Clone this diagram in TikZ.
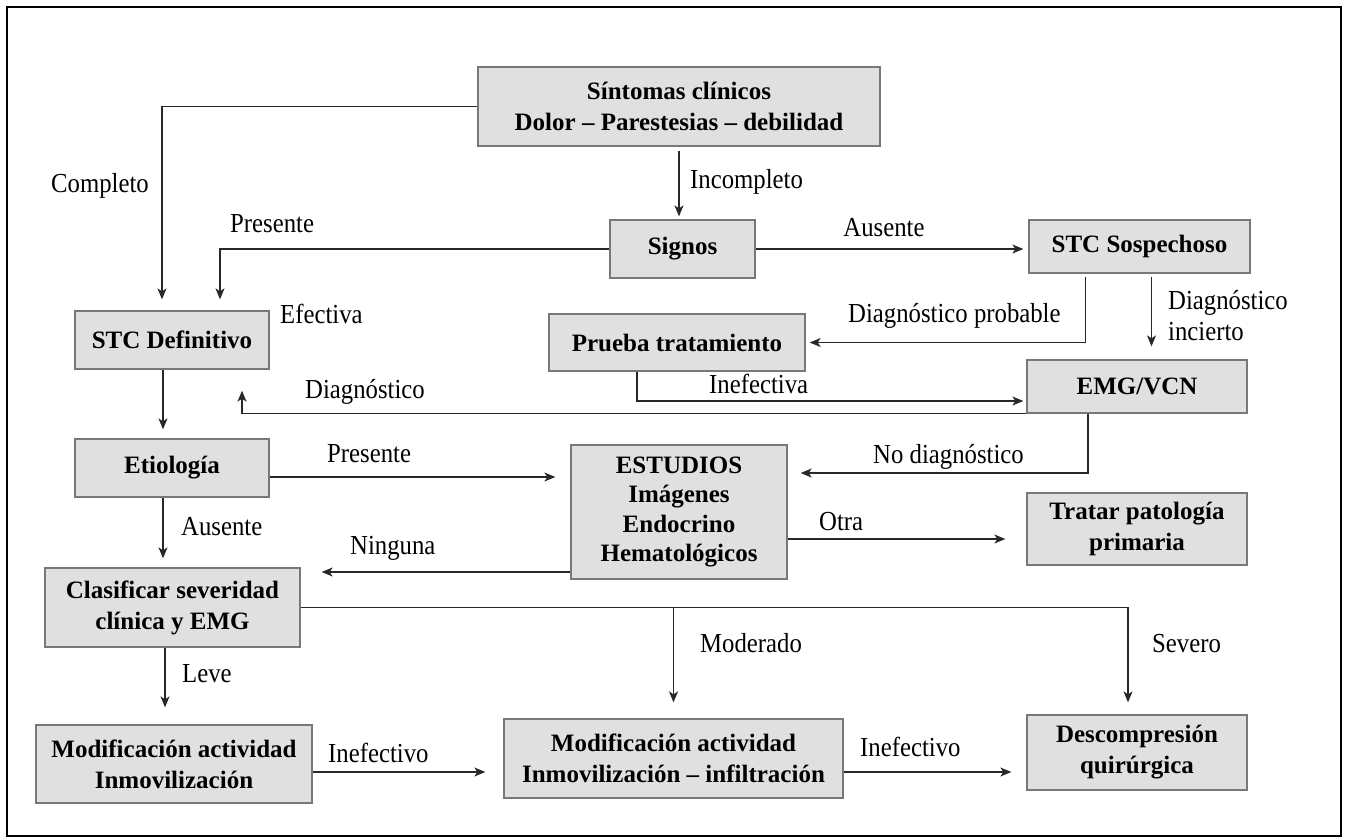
\documentclass[tikz,border=0pt]{standalone}
\usepackage{fontspec}
\setmainfont{Liberation Serif}
\newfontfamily\labfont{Liberation Serif}[FakeStretch=0.9]
\usetikzlibrary{arrows.meta}
\definecolor{boxfill}{RGB}{224,224,224}
\definecolor{boxline}{RGB}{120,120,120}
\definecolor{conn}{RGB}{40,40,40}
\begin{document}
\begin{tikzpicture}[x=1pt,y=-1pt,
  box/.style={draw=boxline,line width=1.3pt,fill=boxfill,align=center,inner sep=0pt,
    font=\fontsize{25}{31}\selectfont\bfseries},
  lab/.style={anchor=base west,inner sep=0pt,font=\labfont\fontsize{27.5}{31}\selectfont},
  arr/.style={draw=conn,line width=1.2pt,-{Stealth[length=11pt,width=9pt,inset=3pt]}}]
\path[use as bounding box] (0,0) rectangle (1352,839);
\draw[line width=1.6pt] (7,7) rectangle (1341,836);
% boxes
\node[box,minimum width=402,minimum height=79] (sint) at (679,106.5) {Síntomas clínicos\\Dolor – Parestesias – debilidad};
\node[box,minimum width=145,minimum height=58] (signos) at (682.5,249) {Signos};
\node[box,minimum width=221,minimum height=53] (sosp) at (1139.5,246.5) {STC Sospechoso};
\node[box,minimum width=194,minimum height=58] (def) at (172,340) {STC Definitivo};
\node[box,minimum width=256,minimum height=57] (prueba) at (677,342.5) {Prueba tratamiento};
\node[box,minimum width=220,minimum height=53] (emg) at (1137,386.5) {EMG/VCN};
\node[box,minimum width=194,minimum height=58] (etio) at (172,468) {Etiología};
\node[box,minimum width=216,minimum height=134,font=\fontsize{25}{29.5}\selectfont\bfseries] (est) at (679,512) {ESTUDIOS\\Imágenes\\Endocrino\\Hematológicos};
\node[box,minimum width=220,minimum height=72] (tratar) at (1137,529) {Tratar patología\\primaria};
\node[box,minimum width=255,minimum height=79] (clasif) at (172.5,607.5) {Clasificar severidad\\clínica y EMG};
\node[box,minimum width=276,minimum height=78] (mod1) at (174,764) {Modificación actividad\\Inmovilización};
\node[box,minimum width=339,minimum height=79] (mod2) at (673.5,758.5) {Modificación actividad\\Inmovilización – infiltración};
\node[box,minimum width=220,minimum height=75] (desc) at (1137,752.5) {Descompresión\\quirúrgica};
% connectors
\draw[arr,shorten >=11pt] (sint.west) -| ([xshift=-10pt]def.north);
\draw[arr,shorten <=4pt,shorten >=3pt] (sint.south) -- (sint.south |- signos.north);
\draw[arr,shorten >=11pt] (signos.west) -| ([xshift=48pt]def.north);
\draw[arr,shorten >=5pt] (signos.east) -- (signos.east -| sosp.west);
\draw[arr,shorten <=3pt,shorten >=4pt] ([xshift=-54pt]sosp.south) |- (prueba.east);
\draw[arr,shorten <=3pt,shorten >=13pt] ([xshift=12pt]sosp.south) -- ([xshift=12pt]sosp.south |- emg.north);
\draw[arr,shorten >=3pt] ([xshift=-40pt]prueba.south) |- ([yshift=-14.5pt]emg.west);
\draw[arr,shorten >=21pt] (emg.south west) -| ([xshift=70pt]def.south);
\draw[arr,shorten >=9pt] ([xshift=-9pt]def.south) -- ([xshift=-9pt]etio.north);
\draw[arr,shorten >=15pt] ([yshift=-9pt]etio.east) -- ([yshift=-9pt]etio.east -| est.west);
\draw[arr,shorten >=13pt] ([xshift=-49pt]emg.south) |- ([yshift=39pt]est.east);
\draw[arr,shorten >=9pt] ([xshift=-9pt]etio.south) -- ([xshift=-9pt]etio.south |- clasif.north);
\draw[arr,shorten >=21pt] ([yshift=-60pt]est.west) -- ([yshift=-60pt]est.west -| clasif.east);
\draw[arr,shorten >=21pt] ([yshift=-27pt]est.east) -- ([yshift=-27pt]est.east -| tratar.west);
\draw[arr,shorten >=12pt] (clasif.east) -| ([xshift=-9pt]desc.north);
\draw[arr,shorten >=16pt] (clasif.east -| mod2.north) -- (mod2.north);
\draw[arr,shorten >=17pt] ([xshift=-7.5pt]clasif.south) -- ([xshift=-7.5pt]clasif.south |- mod1.north);
\draw[arr,shorten >=18pt] ([yshift=-8pt]mod1.east) -- ([yshift=-8pt]mod1.east -| mod2.west);
\draw[arr,shorten >=15pt] ([yshift=-13.5pt]mod2.east) -- ([yshift=-13.5pt]mod2.east -| desc.west);
% labels
\node[lab] (lcomp) at (51,192) {Completo};
\node[lab] (linc) at (690,188) {Incompleto};
\node[lab] (lpres1) at (230,232) {Presente};
\node[lab,anchor=base] (laus1) at (884,236) {Ausente};
\node[lab] (lefec) at (280,323) {Efectiva};
\node[lab] (lprob) at (848,322) {Diagnóstico probable};
\node[lab,align=left] (linci) at (1168,340) {Diagnóstico\\incierto};
\node[lab] (linef) at (709,393) {Inefectiva};
\node[lab] (ldiag) at (305,398) {Diagnóstico};
\node[lab] (lpres2) at (327,462) {Presente};
\node[lab] (lnodiag) at (873,463) {No diagnóstico};
\node[lab] (laus2) at (181,535) {Ausente};
\node[lab] (lning) at (350,554) {Ninguna};
\node[lab] (lotra) at (819,530) {Otra};
\node[lab] (lmod) at (700,652) {Moderado};
\node[lab] (lsev) at (1152,652) {Severo};
\node[lab] (lleve) at (182,682) {Leve};
\node[lab] (linef1) at (328,762) {Inefectivo};
\node[lab] (linef2) at (860,756) {Inefectivo};
\end{tikzpicture}
\end{document}
